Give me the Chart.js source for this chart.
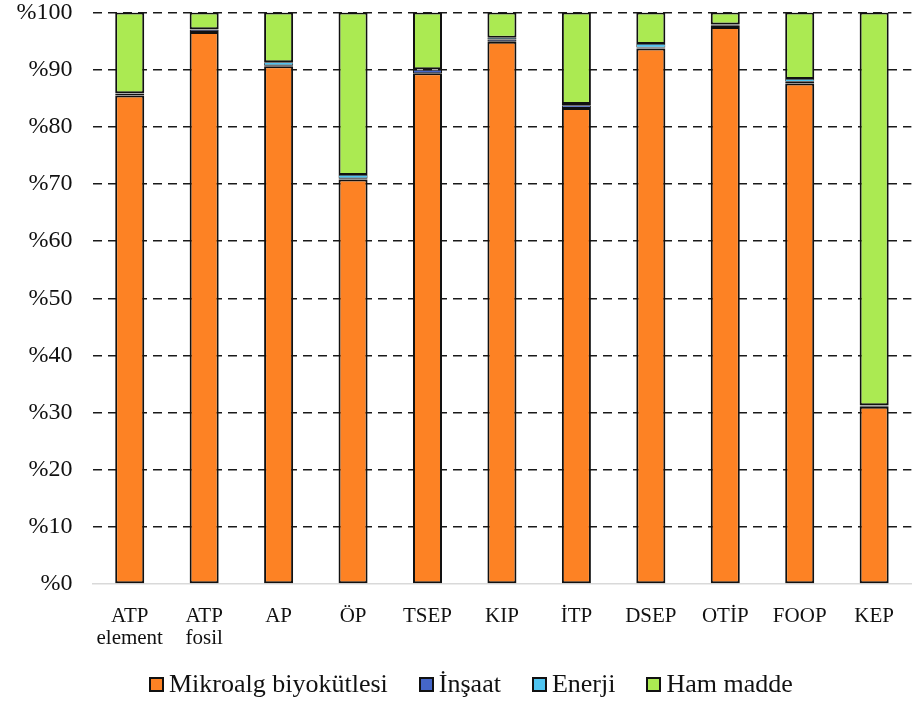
<!DOCTYPE html>
<html>
<head>
<meta charset="utf-8">
<script src="https://cdn.jsdelivr.net/npm/chart.js@4.4.1/dist/chart.umd.min.js"></script>
<style>
  html, body { margin: 0; padding: 0; background: #fff; overflow: hidden; }
  #wrap { position: relative; width: 915px; height: 706px; }
  #legend {
      position: absolute; left: 149px; top: 669px;
      font-family: 'Liberation Serif', serif; font-size: 26px; line-height: 30px;
      color: #111; white-space: nowrap;
  }
  #legend .item { display: inline-block; margin-right: 31px; }
  #legend .box {
      display: inline-block; width: 15px; height: 15px; box-sizing: border-box;
      border: 2px solid #111; margin-right: 5px; vertical-align: baseline;
  }
</style>
</head>
<body>
<div id="wrap">
  <canvas id="kompozisyonChart"></canvas>
  <div id="legend"></div>
</div>
<script>
// kategoriler (iki satırlı etiketler dizi olarak)
const categories = [
    ['ATP', 'element'], ['ATP', 'fosil'], 'AP', 'ÖP', 'TSEP', 'KIP',
    'İTP', 'DSEP', 'OTİP', 'FOOP', 'KEP'
];

const mikroalg = [85.5, 96.6, 90.6, 70.8, 89.4, 94.9, 83.3, 93.7, 97.5, 87.6, 31.0];
const insaat   = [0.3, 0.4, 0.2, 0.2, 0.6, 0.4, 0.5, 0.2, 0.3, 0.3, 0.2];
const enerji   = [0.1, 0.1, 0.5, 0.6, 0.1, 0.3, 0.2, 0.6, 0.1, 0.5, 0.1];
const hamMadde = [14.1, 2.9, 8.7, 28.4, 9.9, 4.4, 16.0, 5.5, 2.1, 11.6, 68.7];

const yTicks = [0, 10, 20, 30, 40, 50, 60, 70, 80, 90, 100];

const serif = 'Liberation Serif';

function seri(label, data, color, border) {
    return {
        label: label,
        data: data,
        backgroundColor: color,
        borderColor: '#111',
        borderWidth: border,
        borderSkipped: false,
        categoryPercentage: 1,
        barPercentage: 0.39
    };
}

const ctx = document.getElementById('kompozisyonChart').getContext('2d');
const chart = new Chart(ctx, {
    type: 'bar',
    data: {
        labels: categories,
        datasets: [
            seri('Mikroalg biyokütlesi', mikroalg, '#FD8224', 2),
            seri('İnşaat', insaat, '#4566C8', 1),
            seri('Enerji', enerji, '#4FC4F0', 0.75),
            seri('Ham madde', hamMadde, '#ABEA52', 2)
        ]
    },
    options: {
        responsive: true,
        maintainAspectRatio: false,
        animation: false,
        layout: { padding: 0 },
        plugins: {
            legend: { display: false },
            tooltip: { enabled: false }
        },
        scales: {
            x: {
                stacked: true,
                grid: { display: false, drawTicks: false },
                border: { display: true, color: '#d9d9d9', width: 1.5 },
                afterFit: scale => { scale.height = 122; },
                ticks: {
                    padding: 21,
                    color: '#111',
                    maxRotation: 0,
                    autoSkip: false,
                    font: { family: serif, size: 21, lineHeight: 1.05 }
                }
            },
            y: {
                stacked: true,
                min: 0,
                max: 100,
                afterBuildTicks: scale => {
                    scale.ticks = yTicks.map(v => ({ value: v }));
                },
                afterFit: scale => { scale.width = 92.5; },
                grid: {
                    drawTicks: true,
                    tickLength: 20,
                    tickColor: 'rgba(0,0,0,0)',
                    lineWidth: 1.5,
                    color: c => (c.tick && c.tick.value === 0) ? 'rgba(0,0,0,0)' : '#1a1a1a'
                },
                border: { display: false, dash: [9, 6] },
                ticks: {
                    padding: 0,
                    color: '#111',
                    font: { family: serif, size: 24, lineHeight: 1.05 },
                    callback: v => '%' + v
                }
            }
        }
    }
});

// lejant, veri setlerinden HTML olarak
const legendDiv = document.getElementById('legend');
chart.data.datasets.forEach(ds => {
    const item = document.createElement('span');
    item.className = 'item';
    const box = document.createElement('span');
    box.className = 'box';
    box.style.background = ds.backgroundColor;
    item.appendChild(box);
    item.appendChild(document.createTextNode(ds.label));
    legendDiv.appendChild(item);
});
</script>
</body>
</html>
